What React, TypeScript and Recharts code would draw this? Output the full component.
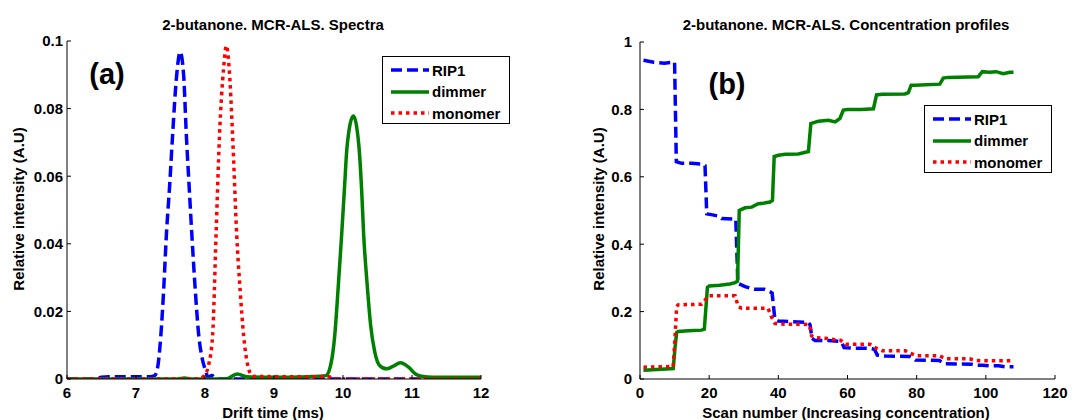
import React from 'react';
import { LineChart, Line, XAxis, YAxis } from 'recharts';

const FONT = '"Liberation Sans", Arial, Helvetica, sans-serif';

// ---------- Panel (a): spectra ----------
const rip1Time = [6, 6.4, 6.5, 6.6, 7.0, 7.2, 7.27, 7.31, 7.36, 7.4, 7.44, 7.49, 7.53, 7.59, 7.64, 7.69, 7.73, 7.77, 7.81, 7.86, 7.91, 7.96, 8.0, 8.05, 8.1, 8.15, 8.2, 9, 10, 11, 12];
const rip1Int = [0, 0, 0.0005, 0.0007, 0.0007, 0.0007, 0.001, 0.003, 0.0128, 0.026, 0.0425, 0.058, 0.072, 0.09, 0.0968, 0.09, 0.072, 0.057, 0.0425, 0.026, 0.0128, 0.006, 0.003, 0.0005, 0.001, 0.0003, 0, 0, 0, 0, 0];

const dimTime = [6, 7.6, 7.7, 7.8, 8.3, 8.47, 8.6, 9.0, 9.5, 9.75, 9.82, 9.88, 9.93, 9.98, 10.02, 10.06, 10.15, 10.23, 10.27, 10.3, 10.35, 10.4, 10.46, 10.53, 10.63, 10.73, 10.83, 10.95, 11.05, 11.14, 11.3, 12];
const dimInt = [0, 0, 0.0003, 0, 0, 0.0015, 0.0007, 0.0005, 0.0007, 0.001, 0.004, 0.0128, 0.027, 0.0425, 0.056, 0.069, 0.0778, 0.069, 0.056, 0.0425, 0.028, 0.016, 0.008, 0.004, 0.003, 0.0038, 0.0048, 0.0035, 0.0015, 0.0008, 0.0005, 0.0005];

const monoTime = [6, 7.9, 7.99, 8.05, 8.11, 8.16, 8.21, 8.27, 8.31, 8.35, 8.40, 8.46, 8.51, 8.56, 8.62, 8.66, 8.7, 9.0, 9.5, 9.8, 9.85, 10, 11, 12];
const monoInt = [0, 0, 0.001, 0.004, 0.0128, 0.0425, 0.072, 0.092, 0.0986, 0.092, 0.072, 0.0425, 0.026, 0.0128, 0.004, 0.0015, 0.0008, 0.0007, 0.0007, 0.0007, 0, 0, 0, 0];

const spectraXTicks = [6, 7, 8, 9, 10, 11, 12];
const spectraYTicks = [0, 0.02, 0.04, 0.06, 0.08, 0.1];

// ---------- Panel (b): concentration profiles ----------
const rip1Scan = [1, 4, 7, 9.5, 10, 10.5, 12, 15, 17.8, 18.8, 19.3, 21, 22.7, 23.6, 27.7, 28.3, 30.4, 33, 36, 37.6, 38.2, 39, 40, 44, 48.7, 49.2, 49.7, 50.6, 54.5, 57.7, 58.5, 59, 62, 66.5, 67.8, 68.6, 71, 78, 78.8, 79.6, 86.5, 87.4, 88, 95.8, 97, 99, 101, 103.7, 105.6, 108];
const rip1Conc = [0.946, 0.94, 0.937, 0.94, 0.94, 0.645, 0.64, 0.64, 0.638, 0.633, 0.49, 0.487, 0.483, 0.476, 0.474, 0.284, 0.274, 0.266, 0.266, 0.259, 0.255, 0.177, 0.172, 0.17, 0.168, 0.16, 0.121, 0.114, 0.114, 0.112, 0.105, 0.093, 0.091, 0.091, 0.088, 0.071, 0.068, 0.067, 0.062, 0.056, 0.055, 0.05, 0.045, 0.044, 0.041, 0.041, 0.039, 0.039, 0.036, 0.036];

const dimScan = [1, 5, 9.6, 10.1, 10.6, 11, 14, 17.8, 18.6, 19.5, 20, 23, 26, 27.5, 28.2, 28.7, 30.4, 32.3, 34.2, 36, 37.6, 38.3, 38.8, 40, 42, 45.8, 48.7, 49.4, 51.6, 54.5, 56.4, 57.8, 58.8, 60, 64, 67.5, 68.4, 70, 76.6, 77.6, 78.4, 79.5, 86.7, 87.7, 89, 97.8, 99, 101, 103, 105, 107, 108];
const dimConc = [0.026, 0.028, 0.031, 0.09, 0.138, 0.141, 0.143, 0.145, 0.148, 0.272, 0.276, 0.278, 0.282, 0.286, 0.29, 0.5, 0.508, 0.51, 0.52, 0.522, 0.525, 0.53, 0.66, 0.664, 0.667, 0.668, 0.675, 0.758, 0.765, 0.768, 0.763, 0.773, 0.798, 0.8, 0.8, 0.802, 0.843, 0.845, 0.846, 0.85, 0.872, 0.872, 0.875, 0.893, 0.895, 0.897, 0.912, 0.91, 0.912, 0.906, 0.91, 0.91];

const monoScan = [1, 5, 9.6, 10.1, 10.6, 11, 17.8, 18.8, 19.8, 27.5, 28.4, 29.4, 37, 38, 39, 40, 48.7, 49.2, 49.6, 50.6, 54.4, 56, 58, 59.5, 62, 66.5, 68, 70, 76.7, 78, 80, 86.5, 88.4, 95.3, 97, 99, 108];
const monoConc = [0.035, 0.036, 0.037, 0.12, 0.215, 0.22, 0.222, 0.234, 0.247, 0.247, 0.215, 0.21, 0.21, 0.185, 0.165, 0.163, 0.162, 0.15, 0.128, 0.123, 0.12, 0.117, 0.115, 0.103, 0.103, 0.103, 0.093, 0.084, 0.084, 0.077, 0.069, 0.069, 0.06, 0.06, 0.055, 0.054, 0.054];

const scanXTicks = [0, 20, 40, 60, 80, 100, 120];
const concYTicks = [0, 0.2, 0.4, 0.6, 0.8, 1];

const seriesNames = ['RIP1', 'dimmer', 'monomer'];
const seriesColors = ['#0000FF', '#008000', '#FF0000'];
const seriesDash = ['11 5', undefined, '3.5 4'];

const zip = (xs: number[], ys: number[]) => xs.map((x, i) => ({ x, y: ys[i] }));

const tickStyle = { fontSize: 15, fontWeight: 'bold' as const, fill: '#000', fontFamily: FONT };

const Txt = ({ x, y, children, size = 15, rotate = false }: any) => (
  <div
    style={{
      position: 'absolute',
      left: x,
      top: y,
      transform: `translate(-50%, -50%)${rotate ? ' rotate(-90deg)' : ''}`,
      whiteSpace: 'nowrap',
      fontFamily: FONT,
      fontWeight: 'bold',
      fontSize: size,
      color: '#000',
      lineHeight: 1,
    }}
  >
    {children}
  </div>
);

const LegendBox = ({ left, top }: { left: number; top: number }) => (
  <div
    style={{
      position: 'absolute',
      left,
      top,
      width: 126,
      height: 66,
      border: '1px solid #000',
      background: '#fff',
      fontFamily: FONT,
      fontWeight: 'bold',
      fontSize: 15,
    }}
  >
    {seriesNames.map((name, i) => (
      <div key={name} style={{ position: 'absolute', left: 0, top: 3 + i * 21.5, height: 20, display: 'flex', alignItems: 'center' }}>
        <svg width={46} height={20} style={{ display: 'block' }}>
          <line x1={8} x2={46} y1={10} y2={10} stroke={seriesColors[i]} strokeWidth={3.5} strokeDasharray={seriesDash[i]} />
        </svg>
        <span style={{ marginLeft: 3 }}>{name}</span>
      </div>
    ))}
  </div>
);

const renderLines = (datasets: { x: number; y: number }[][], type: 'monotone' | 'linear') =>
  datasets.map((d, i) => (
    <Line
      key={seriesNames[i]}
      data={d}
      dataKey="y"
      name={seriesNames[i]}
      type={type}
      stroke={seriesColors[i]}
      strokeWidth={3.5}
      strokeDasharray={seriesDash[i]}
      dot={false}
      activeDot={false}
      isAnimationActive={false}
    />
  ));

export default function App() {
  const spectra = [zip(rip1Time, rip1Int), zip(dimTime, dimInt), zip(monoTime, monoInt)];
  const conc = [zip(rip1Scan, rip1Conc), zip(dimScan, dimConc), zip(monoScan, monoConc)];
  const blank = () => '';
  return (
    <div style={{ position: 'absolute', left: 0, top: 0, width: 1089, height: 420, background: '#fff', overflow: 'hidden' }}>
      <div style={{ position: 'absolute', left: 0, top: 0 }}>
        <LineChart width={545} height={420} margin={{ top: 41, right: 64, bottom: 11, left: 7 }}>
          <XAxis dataKey="x" type="number" domain={[6, 12]} ticks={spectraXTicks} allowDataOverflow
            tick={tickStyle} tickSize={-4} tickMargin={12} height={30} stroke="#000" />
          <XAxis xAxisId="top" orientation="top" dataKey="x" type="number" domain={[6, 12]} ticks={spectraXTicks} allowDataOverflow
            tickFormatter={blank} tickSize={-4} height={0} stroke="#000" />
          <YAxis type="number" domain={[0, 0.1]} ticks={spectraYTicks} allowDataOverflow
            tick={tickStyle} tickSize={-4} tickMargin={8} width={60} stroke="#000" />
          <YAxis yAxisId="right" orientation="right" type="number" domain={[0, 0.1]} ticks={spectraYTicks} allowDataOverflow
            tickFormatter={blank} tickSize={-4} width={0} stroke="#000" />
          {renderLines(spectra, 'monotone')}
        </LineChart>
      </div>
      <div style={{ position: 'absolute', left: 545, top: 0 }}>
        <LineChart width={544} height={420} margin={{ top: 42, right: 34, bottom: 11, left: 35 }}>
          <XAxis dataKey="x" type="number" domain={[0, 120]} ticks={scanXTicks} allowDataOverflow
            tick={tickStyle} tickSize={-4} tickMargin={12} height={30} stroke="#000" />
          <XAxis xAxisId="top" orientation="top" dataKey="x" type="number" domain={[0, 120]} ticks={scanXTicks} allowDataOverflow
            tickFormatter={blank} tickSize={-4} height={0} stroke="#000" />
          <YAxis type="number" domain={[0, 1]} ticks={concYTicks} allowDataOverflow
            tick={tickStyle} tickSize={-4} tickMargin={12} width={60} stroke="#000" />
          <YAxis yAxisId="right" orientation="right" type="number" domain={[0, 1]} ticks={concYTicks} allowDataOverflow
            tickFormatter={blank} tickSize={-4} width={0} stroke="#000" />
          {renderLines(conc, 'linear')}
        </LineChart>
      </div>

      <Txt x={273} y={24}>2-butanone. MCR-ALS. Spectra</Txt>
      <Txt x={846} y={24}>2-butanone. MCR-ALS. Concentration profiles</Txt>
      <Txt x={273} y={412}>Drift time (ms)</Txt>
      <Txt x={846} y={412}>Scan number (Increasing concentration)</Txt>
      <Txt x={18} y={209} rotate>Relative intensity (A.U)</Txt>
      <Txt x={598} y={209} rotate>Relative intensity (A.U)</Txt>
      <Txt x={107} y={74} size={29}>(a)</Txt>
      <Txt x={727} y={84} size={29}>(b)</Txt>

      <LegendBox left={382} top={56} />
      <LegendBox left={924} top={105} />
    </div>
  );
}
